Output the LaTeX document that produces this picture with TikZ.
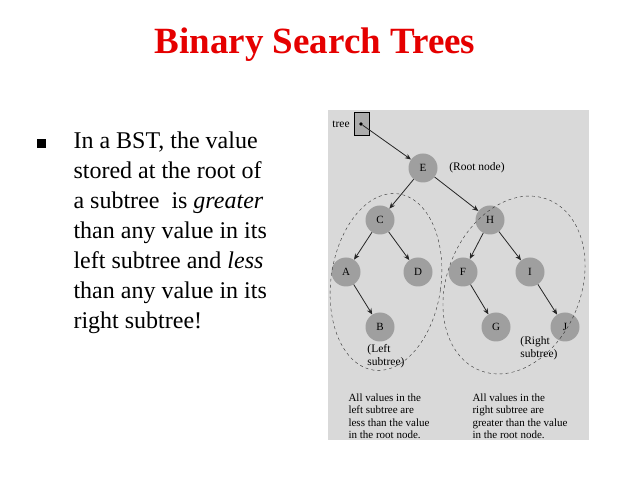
\documentclass[tikz,border=0pt]{standalone}
\usepackage{fontspec}
\setmainfont{Liberation Serif}
\newfontfamily\trf{Liberation Serif}
\usetikzlibrary{arrows.meta}
\begin{document}
\begin{tikzpicture}[x=1pt,y=-1pt,
  tn/.style={circle,fill=gray!75,minimum size=29pt,inner sep=0pt,font=\trf\fontsize{11}{12}\selectfont},
  ar/.style={-{Stealth[length=6pt,width=5pt]},thick,black!85},
  lab/.style={font=\trf\fontsize{11.5}{12.5}\selectfont,align=left},
  sub/.style={draw,dashed,black!80}]
\useasboundingbox (0,0) rectangle (638,478);
\node[text=red!90!black,font=\bfseries\fontsize{37}{40}\selectfont] (title) at (315,45) {Binary Search Trees};
\node[fill=black,minimum size=9pt,inner sep=0pt] (bul) at (41,144) {};
\node[anchor=north west,align=left,font=\fontsize{24}{30}\selectfont] (txt) at (70,128)
 {In a BST, the value\\stored at the root of\\a subtree~ is \emph{greater}\\than any value in its\\left subtree and \emph{less}\\than any value in its\\right subtree!};
\fill[gray!30] (328,110) rectangle (589,440);
\node[draw,fill=gray!65,minimum width=15pt,minimum height=23pt,inner sep=0pt] (tb) at (362,124) {};
\node[lab] (tl) at (341,124) {tree};
\node[circle,fill=black,inner sep=1.3pt] (dot) at (361,124) {};
\node[tn] (E) at (423,168) {E};
\node[tn] (C) at (380,220) {C};
\node[tn] (H) at (490,220) {H};
\node[tn] (A) at (346,272) {A};
\node[tn] (D) at (418,272) {D};
\node[tn] (F) at (463,272) {F};
\node[tn] (I) at (530,272) {I};
\node[tn] (B) at (380,327) {B};
\node[tn] (G) at (496,327) {G};
\node[tn] (J) at (565,327) {J};
\draw[ar] (dot) -- (E);
\draw[ar] (E) -- (C); \draw[ar] (E) -- (H);
\draw[ar] (C) -- (A); \draw[ar] (C) -- (D);
\draw[ar] (A) -- (B);
\draw[ar] (H) -- (F); \draw[ar] (H) -- (I);
\draw[ar] (F) -- (G); \draw[ar] (I) -- (J);
\node[lab] (rn) at (477,168) {(Root node)};
\draw[sub,rotate around={-8:(386,282)}] (386,282) ellipse (55 and 89);
\draw[sub,rotate around={-22:(514,285)}] (514,285) ellipse (67 and 92);
\node[lab] (ls) at (386,356) {(Left\\subtree)};
\node[lab] (rs) at (539,348) {(Right\\subtree)};
\node[lab,anchor=north west,font=\trf\fontsize{11}{12.5}\selectfont] (lt) at (345,390) {All values in the\\left subtree are\\less than the value\\in the root node.};
\node[lab,anchor=north west,font=\trf\fontsize{11}{12.5}\selectfont] (rt) at (469,390) {All values in the\\right subtree are\\greater than the value\\in the root node.};
\end{tikzpicture}
\end{document}
